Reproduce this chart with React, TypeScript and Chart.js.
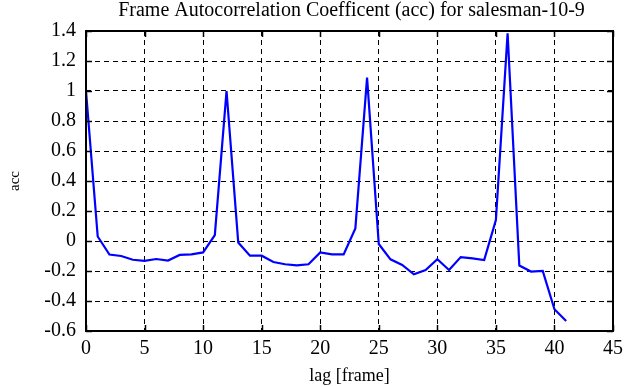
import React, { useEffect, useRef } from "react";
import { Chart, registerables } from "chart.js";
Chart.register(...registerables);

const titleText = "Frame Autocorrelation Coefficent (acc) for salesman-10-9";
const xLabel = "lag [frame]";
const yLabel = "acc";
const lags = [0, 1, 2, 3, 4, 5, 6, 7, 8, 9, 10, 11, 12, 13, 14, 15, 16, 17, 18, 19, 20, 21, 22, 23, 24, 25, 26, 27, 28, 29, 30, 31, 32, 33, 34, 35, 36, 37, 38, 39, 40, 41];
const acc = [1.0, 0.03, -0.09, -0.1, -0.125, -0.133, -0.12, -0.13, -0.093, -0.089, -0.076, 0.04, 1.0, -0.01, -0.098, -0.098, -0.14, -0.155, -0.162, -0.155, -0.076, -0.089, -0.089, 0.084, 1.089, -0.02, -0.122, -0.16, -0.222, -0.193, -0.122, -0.193, -0.107, -0.116, -0.127, 0.14, 1.385, -0.164, -0.204, -0.2, -0.455, -0.533];
const xTicks = [0, 5, 10, 15, 20, 25, 30, 35, 40, 45];
const yTicks = [-0.6, -0.4, -0.2, 0, 0.2, 0.4, 0.6, 0.8, 1, 1.2, 1.4];

const FONT = '"Liberation Serif", "Times New Roman", serif';

const framePlugin = {
  id: "frame",
  afterDraw(chart: any) {
    const { ctx, chartArea: a, scales } = chart;
    ctx.save();
    ctx.strokeStyle = "#000";
    ctx.lineWidth = 1.5;
    const L = 6;
    ctx.beginPath();
    for (const v of xTicks) {
      const x = Math.round(scales.x.getPixelForValue(v)) + 0.5;
      ctx.moveTo(x, a.bottom);
      ctx.lineTo(x, a.bottom - L);
      ctx.moveTo(x, a.top);
      ctx.lineTo(x, a.top + L);
    }
    for (const v of yTicks) {
      const y = Math.round(scales.y.getPixelForValue(v)) + 0.5;
      ctx.moveTo(a.left, y);
      ctx.lineTo(a.left + L, y);
      ctx.moveTo(a.right, y);
      ctx.lineTo(a.right - L, y);
    }
    ctx.stroke();
    ctx.lineWidth = 2;
    ctx.strokeRect(a.left, a.top, a.right - a.left, a.bottom - a.top);
    ctx.fillStyle = "#000";
    ctx.font = "20px " + FONT;
    ctx.textAlign = "center";
    ctx.textBaseline = "middle";
    ctx.fillText(titleText, (a.left + a.right) / 2 + 2, 11);
    ctx.restore();
  },
};

export default function App() {
  const ref = useRef<HTMLCanvasElement>(null);
  useEffect(() => {
    if (!ref.current) return;
    const chart = new Chart(ref.current, {
      type: "line",
      data: {
        datasets: [
          {
            data: lags.map((x, i) => ({ x, y: acc[i] })),
            borderColor: "#0000ff",
            borderWidth: 2.2,
            pointRadius: 0,
            tension: 0,
            fill: false,
          },
        ],
      },
      options: {
        responsive: false,
        animation: false,
        layout: { padding: { top: 31, right: 28, left: 0, bottom: 0 } },
        plugins: { legend: { display: false }, tooltip: { enabled: false }, title: { display: false } },
        scales: {
          x: {
            type: "linear",
            min: 0,
            max: 45,
            afterFit: (s: any) => {
              s.height = 56;
            },
            afterBuildTicks: (s: any) => {
              s.ticks = xTicks.map((v) => ({ value: v }));
            },
            ticks: { font: { family: FONT, size: 20 }, color: "#000", padding: 6, maxRotation: 0 },
            grid: { color: "#000", lineWidth: 1, drawTicks: false },
            border: { display: false, dash: [5, 4] },
            title: { display: true, text: xLabel, font: { family: FONT, size: 18 }, color: "#000", padding: { top: 0, bottom: 0 } },
          },
          y: {
            type: "linear",
            min: -0.6,
            max: 1.4,
            afterFit: (s: any) => {
              s.width = 86;
            },
            afterBuildTicks: (s: any) => {
              s.ticks = yTicks.map((v) => ({ value: v }));
            },
            ticks: {
              font: { family: FONT, size: 20 },
              color: "#000",
              padding: 10,
              callback: (v: any) => String(Number(Number(v).toFixed(1))),
            },
            grid: { color: "#000", lineWidth: 1, drawTicks: false },
            border: { display: false, dash: [5, 4] },
            title: { display: true, text: yLabel, font: { family: FONT, size: 15 }, color: "#000", padding: { top: 6, bottom: 0 } },
          },
        },
      },
      plugins: [framePlugin],
    } as any);
    return () => chart.destroy();
  }, []);
  return (
    <div style={{ position: "fixed", left: 0, top: 0, width: 641, height: 387, background: "#fff" }}>
      <canvas ref={ref} width={641} height={387} style={{ display: "block" }} />
    </div>
  );
}
